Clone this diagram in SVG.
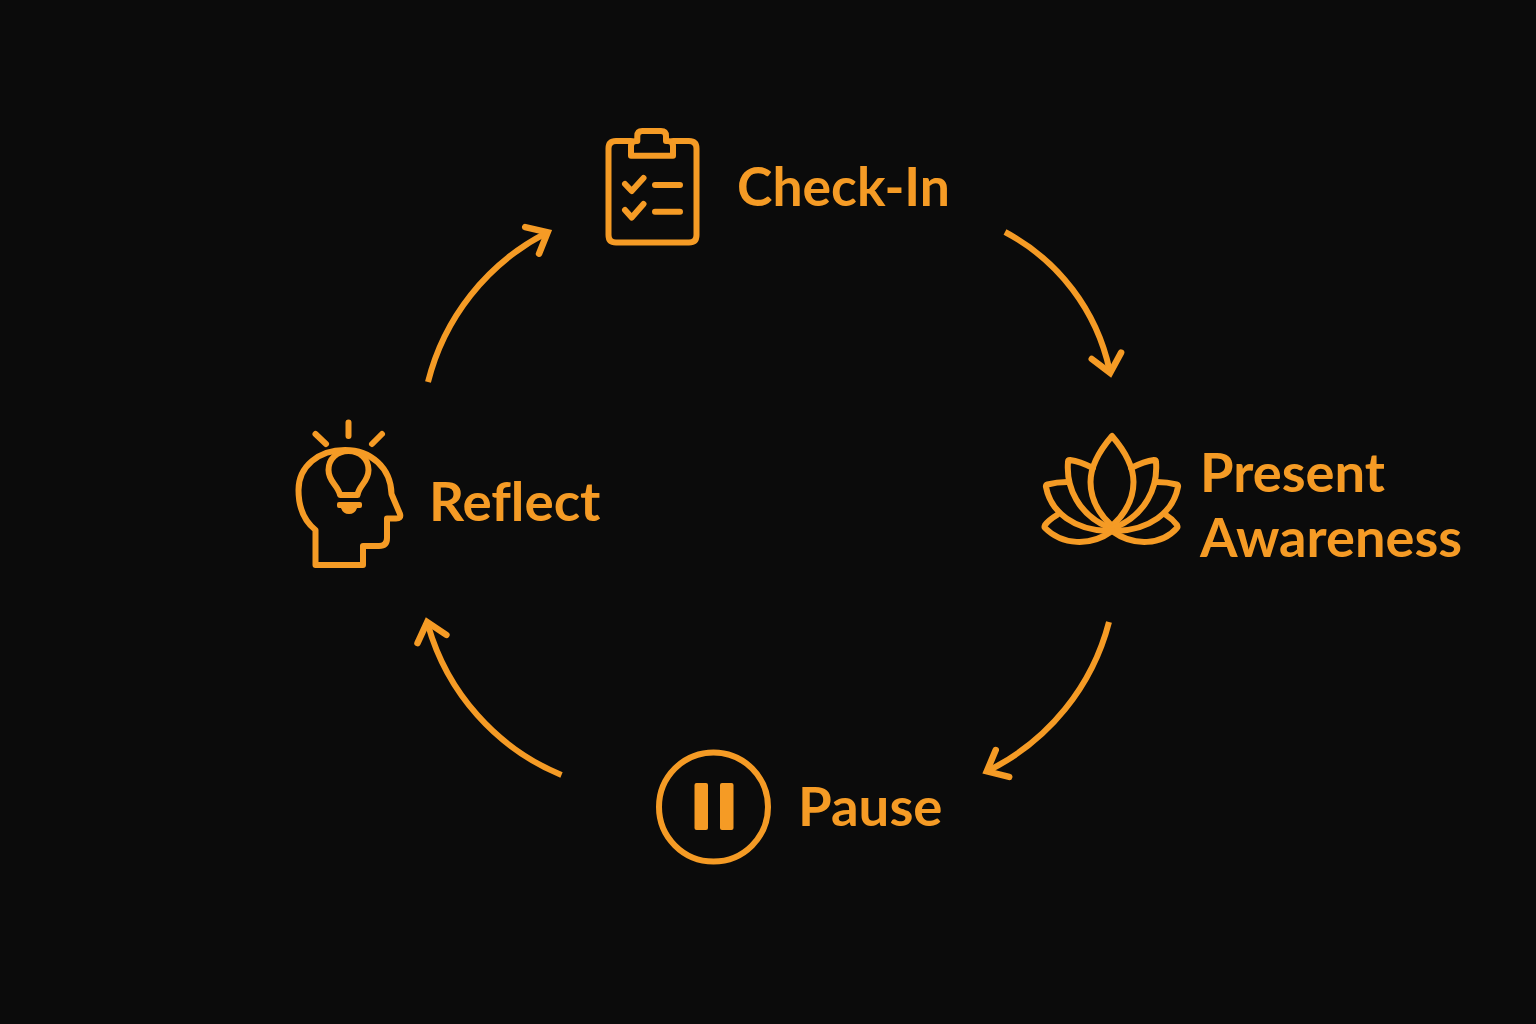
<svg xmlns="http://www.w3.org/2000/svg" width="1536" height="1024" viewBox="0 0 1536 1024">
<style>
.s{fill:none;stroke:#f59b25;stroke-width:6;stroke-linecap:round;stroke-linejoin:round}
.f{fill:#f59b25}
.t{fill:#f59b25;font-family:Lato,"Noto Sans",sans-serif;font-weight:700;font-size:53px;font-variant-ligatures:none}
.c{fill:none;stroke:#f59b25;stroke-width:6}
</style>
<defs>
<marker id="a" markerUnits="userSpaceOnUse" markerWidth="44" markerHeight="44" refX="22" refY="22" orient="auto">
<path d="M7.500 7L25 22L7.500 37" fill="none" stroke="#f59b25" stroke-width="6.500" stroke-linecap="round"/>
</marker>
</defs>
<rect width="1536" height="1024" fill="#0b0b0b"/>
<g id="connectors">
<path class="c" marker-end="url(#a)" d="M1005 232A205 205 0 0 1 1109.500 370"/>
<path class="c" marker-end="url(#a)" d="M1109 622A230 230 0 0 1 989.500 770"/>
<path class="c" marker-end="url(#a)" d="M561.500 775A230 230 0 0 1 428 625"/>
<path class="c" marker-end="url(#a)" d="M428 382A230 230 0 0 1 545 233.700"/>
</g>
<g id="check-in">
<path class="s" d="M631 141H616Q608.500 141 608.500 148.500V235Q608.500 242.500 616 242.500H689Q696.500 242.500 696.500 235V148.500Q696.500 141 689 141H673"/>
<path class="s" d="M637.300 141V136Q637.300 131 642.300 131H661Q666 131 666 136V141H668Q673 141 673 146V155.700H631V146Q631 141 636 141Z"/>
<path class="s" d="M625 184L631.700 191L643.500 178M655 185H680M625 210L631.700 217.500L643.500 204M655 211.700H680"/>
<text class="t" x="737" y="206" textLength="213" lengthAdjust="spacingAndGlyphs">Check-In</text>
</g>
<g id="present-awareness">
<path class="s" d="M1112 436C1100 450 1090.500 465 1090.500 482C1090.500 500 1100 515 1112 526C1124 515 1133.500 500 1133.500 482C1133.500 465 1124 450 1112 436Z"/>
<path class="s" d="M1093 468C1085 464 1077 461 1070 460Q1068 460 1068 462C1066 487 1078 515 1110 528"/>
<path class="s" d="M1131 468C1139 464 1147 461 1154 460Q1156 460 1156 462C1158 487 1146 515 1114 528"/>
<path class="s" d="M1067 482C1060 482 1053 483 1047.500 484.500Q1045.500 485 1046 487C1051 513 1075 530 1108 531"/>
<path class="s" d="M1157 482C1164 482 1171 483 1176.500 484.500Q1178.500 485 1178 487C1173 513 1149 530 1116 531"/>
<path class="s" d="M1057 515C1052 518 1048 521 1045 525Q1044 527 1045 528C1062 545 1090 547 1112 531C1134 547 1162 545 1177 528Q1178 527 1177 525C1174 521 1171 518 1166 515"/>
<text class="t" x="1200" y="492" textLength="185" lengthAdjust="spacingAndGlyphs">Present</text>
<text class="t" x="1200" y="556.500" textLength="262" lengthAdjust="spacingAndGlyphs">Awareness</text>
</g>
<g id="pause">
<circle class="s" cx="713.500" cy="807" r="54.500"/>
<rect class="f" x="694.500" y="783" width="13.500" height="47" rx="2"/>
<rect class="f" x="720" y="783" width="13.500" height="47" rx="2"/>
<text class="t" x="798" y="825.500" textLength="144.500" lengthAdjust="spacingAndGlyphs">Pause</text>
</g>
<g id="reflect">
<path class="s" d="M348.500 422.500V436M315.500 434L326 444M382 434L372 444"/>
<path class="s" d="M363 546V565H315.500V530C303 520 298.500 505 298.500 490C298.500 466 319 450 345 450C371 450 391 468 391.500 494L400 514C401 517 399.500 518.500 396 518.500H387V538Q387 546 379 546Z"/>
<path class="s" d="M340 495C338 485 328.500 482 328.500 470C328.500 459 337 451 348.500 451C360 451 368.500 459 368.500 470C368.500 482 359 485 357.500 495Z"/>
<path class="f" d="M339 502H360Q362 502 362 504V506Q362 508 360 508H357Q355 514 349 514Q343 514 341 508H339Q337 508 337 506V504Q337 502 339 502Z"/>
<text class="t" x="429" y="521" textLength="171.500" lengthAdjust="spacingAndGlyphs">Reflect</text>
</g>
</svg>
